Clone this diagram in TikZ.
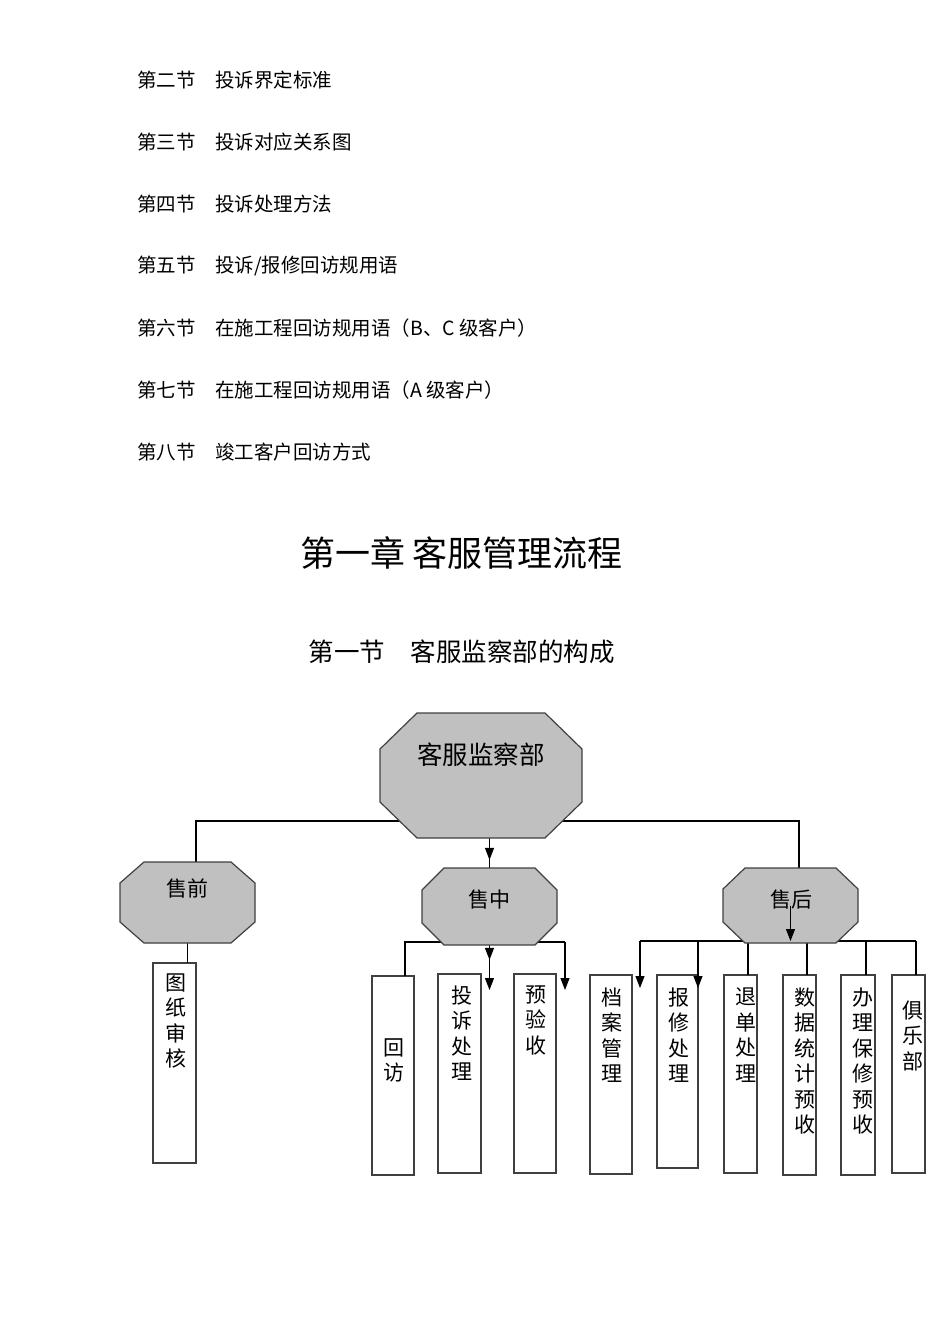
\documentclass[tikz,border=0pt]{standalone}
\usepackage{fontspec}
\newfontfamily\cjk{Noto Sans CJK SC}
\usetikzlibrary{arrows.meta,decorations.markings,calc}
\definecolor{octfill}{HTML}{C0C0C0}
\definecolor{octline}{HTML}{404040}
\definecolor{boxline}{HTML}{404040}
\tikzset{
  ghost/.style={rectangle, inner sep=0pt, outer sep=0pt},
  boxr/.style={rectangle, draw=boxline, line width=1.3pt, fill=white, inner sep=0pt, outer sep=0pt},
  octa/.style={draw=octline, fill=octfill, line width=1.2pt},
  conn/.style={draw=black, line width=1.1pt},
  tip/.style={-{Triangle[width=9pt,length=12pt]}},
  midtip/.style={postaction={decorate}, decoration={markings, mark=at position #1 with {\arrow{Triangle[width=9pt,length=12pt]}}}},
  item/.style={font=\cjk\fontsize{19.5}{24}\selectfont, anchor=west, inner sep=0pt},
  chap/.style={font=\cjk\fontsize{35}{40}\selectfont, inner sep=0pt},
  sect/.style={font=\cjk\fontsize{25.5}{30}\selectfont, inner sep=0pt},
  biglbl/.style={font=\cjk\fontsize{25.5}{30}\selectfont, inner sep=0pt},
  octlbl/.style={font=\cjk\fontsize{21}{25}\selectfont, inner sep=0pt},
  vlbl/.style={font=\cjk\fontsize{21}{25.5}\selectfont, align=center, inner sep=0pt, anchor=north},
}
\newcommand\octpath[3]{%
  \draw[octa] ($(#1.north west)+(#2,0)$) -- ($(#1.north east)+(-#2,0)$) -- ($(#1.north east)+(0,#3)$) -- ($(#1.south east)+(0,-#3)$) -- ($(#1.south east)+(-#2,0)$) -- ($(#1.south west)+(#2,0)$) -- ($(#1.south west)+(0,-#3)$) -- ($(#1.north west)+(0,#3)$) -- cycle;}
\begin{document}
\begin{tikzpicture}[x=1pt,y=-1pt]
\useasboundingbox (0,0) rectangle (950,1344);

% text list
\node[item] (s2) at (137,80) {第二节　投诉界定标准};
\node[item] (s3) at (137,142) {第三节　投诉对应关系图};
\node[item] (s4) at (137,204) {第四节　投诉处理方法};
\node[item] (s5) at (137,266) {第五节　投诉/报修回访规用语};
\node[item] (s6) at (137,328) {第六节　在施工程回访规用语（B、C 级客户）};
\node[item] (s7) at (137,390) {第七节　在施工程回访规用语（A 级客户）};
\node[item] (s8) at (137,452) {第八节　竣工客户回访方式};
\node[chap] (ch) at (461.5,553) {第一章 客服管理流程};
\node[sect] (se) at (461.5,652) {第一节　客服监察部的构成};

% octagon frames (invisible)
\node[ghost, minimum width=202pt, minimum height=125pt] (ceo) at (481,775.5) {};
\node[ghost, minimum width=135pt, minimum height=81pt] (pre) at (187.5,902.5) {};
\node[ghost, minimum width=135pt, minimum height=77pt] (mid) at (489.5,906.5) {};
\node[ghost, minimum width=135pt, minimum height=75pt] (post) at (790.5,905.5) {};

% boxes
\node[boxr, minimum width=43pt, minimum height=200pt] (b1) at (174.5,1063) {};
\node[boxr, minimum width=42pt, minimum height=199pt] (b2) at (393,1075.5) {};
\node[boxr, minimum width=43pt, minimum height=199pt] (b3) at (459.5,1073.5) {};
\node[boxr, minimum width=42pt, minimum height=199pt] (b4) at (535,1073.5) {};
\node[boxr, minimum width=42pt, minimum height=199pt] (b5) at (611,1074.5) {};
\node[boxr, minimum width=41pt, minimum height=193pt] (b6) at (677.5,1071.5) {};
\node[boxr, minimum width=33pt, minimum height=198pt] (b7) at (740.5,1074) {};
\node[boxr, minimum width=33pt, minimum height=200pt] (b8) at (799.5,1075) {};
\node[boxr, minimum width=34pt, minimum height=200pt] (b9) at (858,1075) {};
\node[boxr, minimum width=33pt, minimum height=198pt] (b10) at (908.5,1074) {};

% connectors
\coordinate (jl) at (196,821);
\coordinate (jr) at (799,821);
\draw[conn] (jl |- pre.north) -- (jl) -- (jr) -- (jr |- post.north);
\draw[conn, midtip=0.73] (mid.north |- ceo.south) -- (mid.north);
\draw[conn] (pre.south) -- (pre.south |- b1.north);

\coordinate (ml) at (405,942);
\coordinate (mr) at (565,942);
\coordinate (mre) at (565,990);
\coordinate (mme) at (489.5,990);
\draw[conn] (ml |- b2.north) -- (ml) -- (mr);
\draw[conn, tip] (mr) -- (mre);
\draw[conn, tip, midtip=0.33] (mid.south) -- (mme);

\coordinate (pl) at (640,941);
\coordinate (pr) at (916,941);
\coordinate (pa1) at (640,988);
\coordinate (pa2) at (698,988);
\coordinate (p7) at (748,941);
\coordinate (p8) at (807,941);
\coordinate (p9) at (866,941);
\draw[conn] (pl) -- (pr);
\draw[conn, tip] (pl) -- (pa1);
\draw[conn, tip] (pa2 |- pl) -- (pa2);
\draw[conn] (p7) -- (p7 |- b7.north);
\draw[conn] (p8) -- (p8 |- b8.north);
\draw[conn] (p9) -- (p9 |- b9.north);
\draw[conn] (pr) -- (pr |- b10.north);

% octagons
\octpath{ceo}{37}{36}
\octpath{pre}{24}{21}
\octpath{mid}{22}{22}
\octpath{post}{22}{21}

\draw[conn, tip] (post.center) -- (post.center |- pl);

% octagon labels
\node[biglbl] (ceoT) at (481,755) {客服监察部};
\node[octlbl] (preT) at (187,888) {售前};
\node[octlbl] (midT) at (489,900) {售中};
\node[octlbl] (postT) at (791,900) {售后};

% box labels
\node[vlbl] (b1t) at (176,973.5) {图\\纸\\审\\核};
\node[vlbl] (b2t) at (393.5,1038.5) {回\\访};
\node[vlbl] (b3t) at (461.5,985.5) {投\\诉\\处\\理};
\node[vlbl] (b4t) at (536,985.5) {预\\验\\收};
\node[vlbl] (b5t) at (612,987.5) {档\\案\\管\\理};
\node[vlbl] (b6t) at (679,987.5) {报\\修\\处\\理};
\node[vlbl] (b7t) at (746,987.5) {退\\单\\处\\理};
\node[vlbl] (b8t) at (805,987.5) {数\\据\\统\\计\\预\\收};
\node[vlbl] (b9t) at (863,987.5) {办\\理\\保\\修\\预\\收};
\node[vlbl] (b10t) at (913,1000.5) {俱\\乐\\部};
\end{tikzpicture}
\end{document}
